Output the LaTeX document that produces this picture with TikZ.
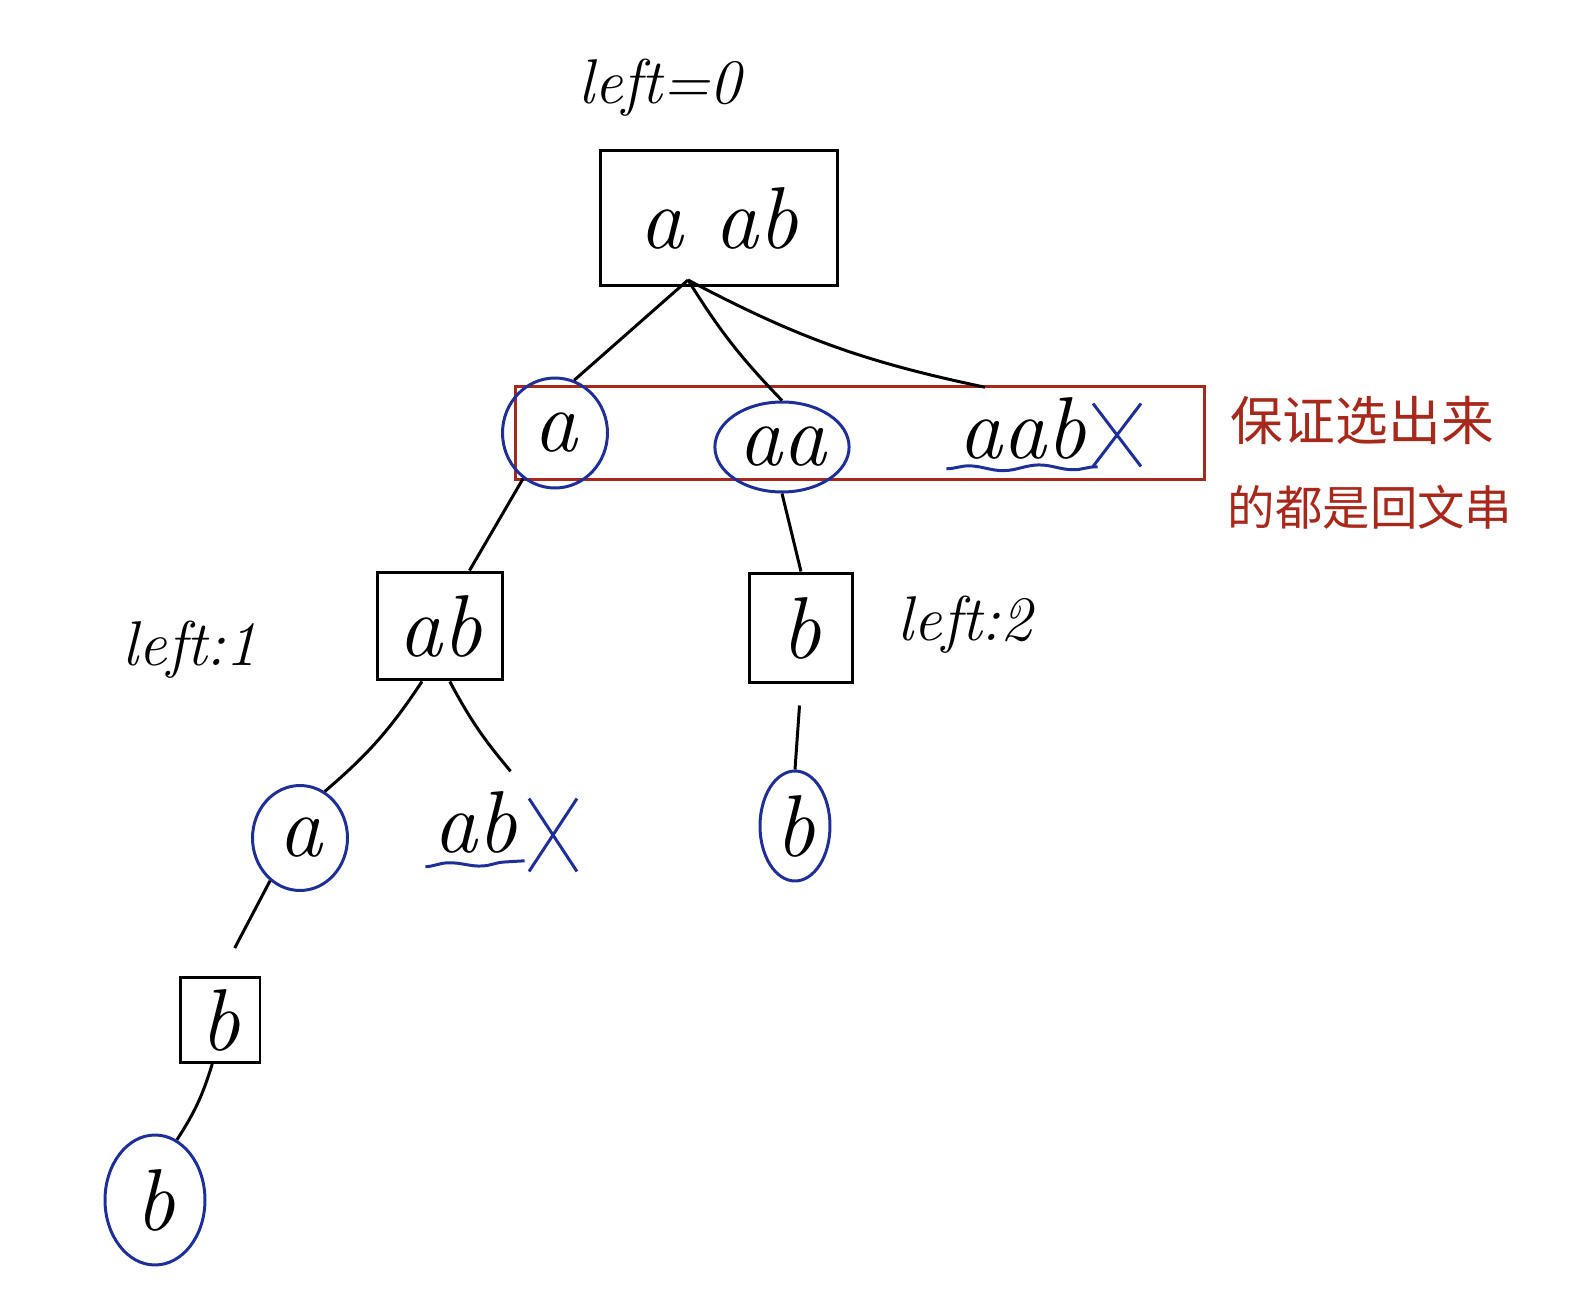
\documentclass[tikz,border=0pt]{standalone}
\usepackage{fontspec}
\newfontfamily\cjk{Noto Sans CJK SC}
\usetikzlibrary{shapes.geometric,shapes.misc,decorations.pathmorphing,calc}
\definecolor{inkblue}{HTML}{1F2F9A}
\definecolor{inkred}{HTML}{A8281C}
\begin{document}
\begin{tikzpicture}[x=0.02cm,y=-0.02cm,
  hand/.style={font=\fontsize{50}{54}\selectfont\itshape, inner sep=2pt},
  lbl/.style={font=\fontsize{36}{40}\selectfont\itshape, inner sep=2pt},
  boxnode/.style={hand, draw=black, line width=1.7pt},
  circnode/.style={hand, ellipse, draw=inkblue, line width=1.7pt},
  cn/.style={draw=black, line width=1.7pt},
  wavy/.style={draw=inkblue, line width=1.7pt, decorate, decoration={snake, amplitude=1.5pt, segment length=40pt}},
  xmark/.style={cross out, draw=inkblue, line width=1.7pt, inner sep=0pt},
  cjklbl/.style={font=\cjk\fontsize{30}{34}\selectfont, text=inkred, inner sep=0pt}]
\useasboundingbox (0,0) rectangle (1580,1314);

% labels
\node[lbl] (l0) at (660,88) {left=0};
\node[lbl] (l1) at (190,650) {left:1};
\node[lbl] (l2) at (965,625) {left:2};

% root
\node[boxnode, minimum width=4.76cm, minimum height=2.7cm] (root) at (719,218) {a ab};
\coordinate (rootfork) at (688,280);

% red box and its note
\node[draw=inkred, line width=1.7pt, minimum width=13.8cm, minimum height=1.86cm] (redbox) at (860,433) {};
\node[cjklbl] (note1) at (1362,420) {保证选出来};
\node[cjklbl, font=\cjk\fontsize{27}{30}\selectfont] (note2) at (1370,507) {的都是回文串};

% level 1
\node[circnode, minimum width=2.1cm, minimum height=2.2cm] (a1) at (555,433) {a};
\node[circnode, minimum width=2.6cm, minimum height=1.8cm] (aa) at (782,447) {aa};
\node[hand] (aab) at (1022,428) {aab};
\draw[wavy] ($(aab.south west)+(-8,6)$) -- ($(aab.south east)+(8,4)$);
\node[xmark, minimum width=0.9cm, minimum height=1.2cm] (x1) at (1117,435) {};

% level 2
\node[boxnode, minimum width=2.5cm, minimum height=2.16cm] (ab) at (440,626) {ab};
\node[boxnode, minimum width=2.06cm, minimum height=2.2cm] (b2) at (801,628) {b};

% level 3
\node[circnode, minimum width=1.9cm, minimum height=2.1cm] (a2) at (300,838) {a};
\node[hand] (abx) at (475,822) {ab};
\draw[wavy] ($(abx.south west)+(-4,10)$) -- ($(abx.south east)+(4,4)$);
\node[xmark, minimum width=0.9cm, minimum height=1.4cm] (x2) at (553,835) {};
\node[circnode, minimum width=1.4cm, minimum height=2.2cm] (b3) at (795,826) {b};

% level 4, 5
\node[boxnode, minimum width=1.6cm, minimum height=1.7cm] (b4) at (220,1020) {b};
\node[circnode, minimum width=2cm, minimum height=2.6cm] (b5) at (155,1200) {b};

% connectors
\draw[cn] (rootfork) -- (a1.70);
\draw[cn] (rootfork) to[bend right=6] (aa.north);
\draw[cn] (rootfork) to[bend right=8] ($(aab.north)+(-37,-6)$);
\draw[cn] (a1.235) -- (ab.62);
\draw[cn] (aa.south) -- (b2.north);
\draw[cn] (ab.-108) to[bend left=8] (a2.62);
\draw[cn] (ab.-80) to[bend right=6] ($(abx.north east)+(-10,-16)$);
\draw[cn, shorten <=12pt] (b2.south) -- (b3.north);
\draw[cn, shorten >=18pt] (a2.-125) -- (b4.north);
\draw[cn] (b4.-100) to[bend left=8] (b5.70);
\end{tikzpicture}
\end{document}
